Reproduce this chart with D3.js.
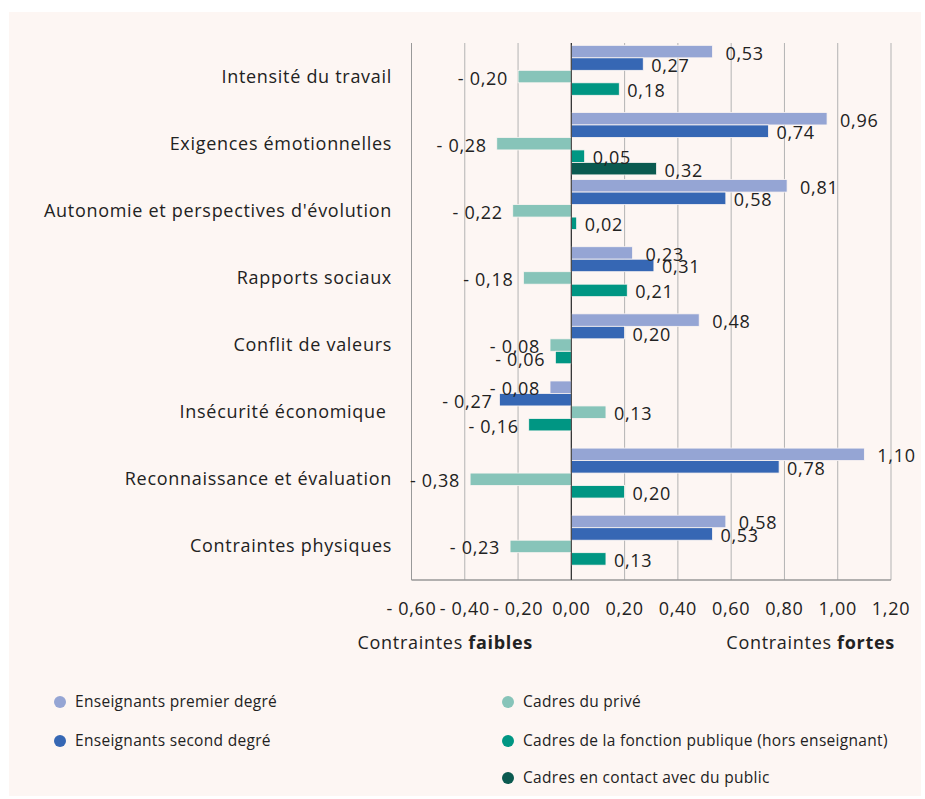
<!DOCTYPE html>
<html>
<head>
<meta charset="utf-8">
<script src="https://cdn.jsdelivr.net/npm/d3@7"></script>
<style>
  body { margin: 0; background: #fff; }
  text { font-family: "Open Sans", sans-serif; fill: #222; }
  .big { font-size: 18px; letter-spacing: 0.7px; }
</style>
</head>
<body>
<svg width="925" height="799"></svg>
<script>
// categories (top to bottom)
var categories = [
  "Intensité du travail",
  "Exigences émotionnelles",
  "Autonomie et perspectives d'évolution",
  "Rapports sociaux",
  "Conflit de valeurs",
  "Insécurité économique\u00a0",
  "Reconnaissance et évaluation",
  "Contraintes physiques"
];

var seriesNames = [
  "Enseignants premier degré",
  "Enseignants second degré",
  "Cadres du privé",
  "Cadres de la fonction publique (hors enseignant)",
  "Cadres en contact avec du public"
];
var colors = ["#95a5d4", "#3667b4", "#87c4b9", "#009683", "#0b5a50"];

// one array per series, same order as categories (null = no bar)
var premierDegre = [0.53, 0.96, 0.81, 0.23, 0.48, -0.08, 1.10, 0.58];
var secondDegre  = [0.27, 0.74, 0.58, 0.31, 0.20, -0.27, 0.78, 0.53];
var cadresPrive  = [-0.20, -0.28, -0.22, -0.18, -0.08, 0.13, -0.38, -0.23];
var cadresFP     = [0.18, 0.05, 0.02, 0.21, -0.06, -0.16, 0.20, 0.13];
var cadresPublic = [null, 0.32, null, null, null, null, null, null];

var xTicks = [-0.6, -0.4, -0.2, 0, 0.2, 0.4, 0.6, 0.8, 1.0, 1.2];

var allSeries = [premierDegre, secondDegre, cadresPrive, cadresFP, cadresPublic];

var svg = d3.select("svg");

// background panel
svg.append("rect")
  .attr("x", 9).attr("y", 12)
  .attr("width", 912).attr("height", 784)
  .attr("fill", "#fdf6f3");

var x = d3.scaleLinear().domain([-0.6, 1.2]).range([411.5, 891]);
var y = d3.scaleBand().domain(categories).range([43, 580])
  .paddingInner(0.07).paddingOuter(0.035);
var ySub = d3.scaleBand().domain(d3.range(5)).range([0, y.bandwidth()]);

function fmt(v) {
  var s = d3.format(".2f")(Math.abs(v)).replace(".", ",");
  return v < 0 ? "- " + s : s;
}

// gridlines
svg.append("g").selectAll("line")
  .data(xTicks)
  .enter().append("line")
  .attr("x1", function(d) { return x(d); })
  .attr("x2", function(d) { return x(d); })
  .attr("y1", 43).attr("y2", 580)
  .attr("stroke", function(d) { return d === 0 ? "#333" : (d === -0.6 ? "#999" : "#b3b3b3"); })
  .attr("stroke-width", 1);

// bottom axis line
svg.append("line")
  .attr("x1", x(-0.6)).attr("x2", x(1.2))
  .attr("y1", 580).attr("y2", 580)
  .attr("stroke", "#999").attr("stroke-width", 1.5);

// tick labels
svg.append("g").selectAll("text")
  .data(xTicks)
  .enter().append("text")
  .attr("class", "big")
  .attr("x", function(d) { return x(d); })
  .attr("y", 615)
  .attr("text-anchor", "middle")
  .text(fmt);

// bars
var rows = [];
allSeries.forEach(function(arr, si) {
  arr.forEach(function(v, ci) {
    if (v !== null) rows.push({ s: si, c: categories[ci], v: v });
  });
});

svg.append("g").selectAll("rect")
  .data(rows)
  .enter().append("rect")
  .attr("x", function(d) { return x(Math.min(0, d.v)); })
  .attr("y", function(d) { return y(d.c) + ySub(d.s); })
  .attr("width", function(d) { return Math.abs(x(d.v) - x(0)); })
  .attr("height", ySub.bandwidth())
  .attr("fill", function(d) { return colors[d.s]; })
  .attr("stroke", "#fdf6f3").attr("stroke-width", 0.8);

// redraw zero line on top
svg.append("line")
  .attr("x1", x(0)).attr("x2", x(0))
  .attr("y1", 43).attr("y2", 580)
  .attr("stroke", "#333").attr("stroke-width", 1);

// value labels
svg.append("g").selectAll("text")
  .data(rows)
  .enter().append("text")
  .attr("class", "big")
  .attr("x", function(d) {
    if (d.v < 0) return x(d.v) - (d.s === 1 ? 7 : 10);
    return x(d.v) + (d.s === 0 ? 13 : 8);
  })
  .attr("y", function(d) { return y(d.c) + ySub(d.s) + ySub.bandwidth() / 2 + 8; })
  .attr("text-anchor", function(d) { return d.v < 0 ? "end" : "start"; })
  .text(function(d) { return fmt(d.v); });

// category labels
svg.append("g").selectAll("text")
  .data(categories)
  .enter().append("text")
  .attr("class", "big")
  .attr("x", 392)
  .attr("y", function(d) { return y(d) + y.bandwidth() / 2 + 6; })
  .attr("text-anchor", "end")
  .text(function(d) { return d; });

// "Contraintes faibles / fortes"
var low = svg.append("text").attr("class", "big").attr("x", 533).attr("y", 649)
  .attr("text-anchor", "end");
low.append("tspan").text("Contraintes ");
low.append("tspan").attr("font-weight", "bold").text("faibles");

var high = svg.append("text").attr("class", "big").attr("x", 895).attr("y", 649)
  .attr("text-anchor", "end");
high.append("tspan").text("Contraintes ");
high.append("tspan").attr("font-weight", "bold").text("fortes");

// legend
var legendPos = [[60, 702], [60, 741], [508, 702], [508, 741], [508, 778]];
var legend = svg.append("g").selectAll("g")
  .data(seriesNames)
  .enter().append("g")
  .attr("transform", function(d, i) { return "translate(" + legendPos[i][0] + "," + legendPos[i][1] + ")"; });

legend.append("circle")
  .attr("r", 6)
  .attr("fill", function(d, i) { return colors[i]; });

legend.append("text")
  .attr("x", 15)
  .attr("y", 5)
  .attr("font-size", "15.5px")
  .attr("letter-spacing", "0.3px")
  .text(function(d) { return d; });
</script>
</body>
</html>
